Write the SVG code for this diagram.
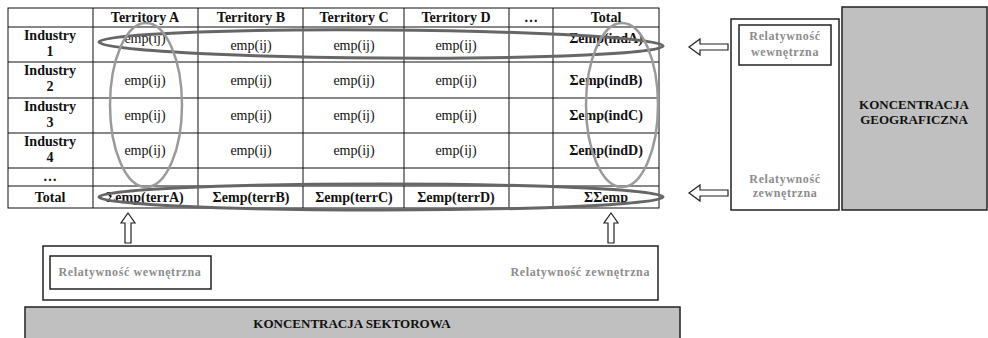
<svg xmlns="http://www.w3.org/2000/svg" width="988" height="338" viewBox="0 0 988 338" font-family="'Liberation Serif', 'DejaVu Serif', serif">
<style>
text{font-family:'Liberation Serif','DejaVu Serif',serif;fill:#111}
.b{font-weight:bold;font-size:14px;text-anchor:middle}
.r{font-size:14px;text-anchor:middle}
.g{font-weight:bold;font-size:12px;fill:#8c8c8c;letter-spacing:0.6px}
.k{font-weight:bold;font-size:13px;text-anchor:middle}
.grid{stroke:#111;stroke-width:1;fill:none}
.box{fill:#fff;stroke:#222;stroke-width:1.5}
.gray{fill:#c0c0c0;stroke:#222;stroke-width:1.5}
.arr{fill:#fff;stroke:#222;stroke-width:1.2}
.eh{fill:none;stroke:#666;stroke-width:3}
.ev{fill:none;stroke:#9a9a9a;stroke-width:2.5}
</style>
<defs>
<linearGradient id="gh" x1="0" x2="1" y1="0" y2="0">
<stop offset="0" stop-color="#777"/><stop offset="0.5" stop-color="#555"/><stop offset="1" stop-color="#888"/>
</linearGradient>
</defs>

<g id="table">
<rect x="8" y="8" width="651" height="200" class="grid"/>
<line x1="8" y1="27" x2="659" y2="27" class="grid"/>
<line x1="8" y1="62" x2="659" y2="62" class="grid"/>
<line x1="8" y1="98" x2="659" y2="98" class="grid"/>
<line x1="8" y1="133" x2="659" y2="133" class="grid"/>
<line x1="8" y1="168" x2="659" y2="168" class="grid"/>
<line x1="8" y1="186" x2="659" y2="186" class="grid"/>
<line x1="93" y1="8" x2="93" y2="208" class="grid"/>
<line x1="198" y1="8" x2="198" y2="208" class="grid"/>
<line x1="303" y1="8" x2="303" y2="208" class="grid"/>
<line x1="404" y1="8" x2="404" y2="208" class="grid"/>
<line x1="509" y1="8" x2="509" y2="208" class="grid"/>
<line x1="553" y1="8" x2="553" y2="208" class="grid"/>

<text x="145" y="22" class="b">Territory A</text>
<text x="251" y="22" class="b">Territory B</text>
<text x="354" y="22" class="b">Territory C</text>
<text x="456" y="22" class="b">Territory D</text>
<text x="531" y="22" class="b">…</text>
<text x="606" y="22" class="b">Total</text>

<text x="50" y="40" class="b">Industry</text><text x="50" y="56" class="b">1</text>
<text x="50" y="75" class="b">Industry</text><text x="50" y="91" class="b">2</text>
<text x="50" y="111" class="b">Industry</text><text x="50" y="127" class="b">3</text>
<text x="50" y="146" class="b">Industry</text><text x="50" y="162" class="b">4</text>
<text x="50" y="181" class="b">…</text>
<text x="50" y="202" class="b">Total</text>

<text x="145" y="43" class="r">emp(ij)</text>
<text x="251" y="50" class="r">emp(ij)</text>
<text x="354" y="50" class="r">emp(ij)</text>
<text x="456" y="50" class="r">emp(ij)</text>
<text x="606" y="43" class="b">Σemp(indA)</text>

<text x="145" y="85" class="r">emp(ij)</text>
<text x="251" y="85" class="r">emp(ij)</text>
<text x="354" y="85" class="r">emp(ij)</text>
<text x="456" y="85" class="r">emp(ij)</text>
<text x="606" y="85" class="b">Σemp(indB)</text>

<text x="145" y="120" class="r">emp(ij)</text>
<text x="251" y="120" class="r">emp(ij)</text>
<text x="354" y="120" class="r">emp(ij)</text>
<text x="456" y="120" class="r">emp(ij)</text>
<text x="606" y="120" class="b">Σemp(indC)</text>

<text x="145" y="155" class="r">emp(ij)</text>
<text x="251" y="155" class="r">emp(ij)</text>
<text x="354" y="155" class="r">emp(ij)</text>
<text x="456" y="155" class="r">emp(ij)</text>
<text x="606" y="155" class="b">Σemp(indD)</text>

<text x="145" y="202" class="b">Σemp(terrA)</text>
<text x="251" y="202" class="b">Σemp(terrB)</text>
<text x="354" y="202" class="b">Σemp(terrC)</text>
<text x="456" y="202" class="b">Σemp(terrD)</text>
<text x="606" y="202" class="b">ΣΣemp</text>
</g>

<g id="ellipses">
<ellipse cx="381" cy="44" rx="282" ry="14" class="eh" stroke="url(#gh)" transform="rotate(0.4 381 44)"/>
<ellipse cx="381" cy="197" rx="282" ry="13" class="eh" stroke="url(#gh)"/>
<ellipse cx="146" cy="105" rx="36" ry="82" class="ev"/>
<ellipse cx="622" cy="105" rx="36" ry="82" class="ev"/>
</g>

<g id="geo-relative">
<rect x="731" y="19" width="108" height="191" class="box"/>
<rect x="739" y="25" width="92" height="40" class="box"/>
<text x="785" y="40" class="g" text-anchor="middle">Relatywność</text>
<text x="785" y="56" class="g" text-anchor="middle">wewnętrzna</text>
<text x="785" y="183" class="g" text-anchor="middle">Relatywność</text>
<text x="785" y="197" class="g" text-anchor="middle">zewnętrzna</text>
</g>

<g id="geo">
<rect x="842" y="7" width="145" height="203" class="gray"/>
<text x="914" y="109" class="k">KONCENTRACJA</text>
<text x="914" y="124" class="k">GEOGRAFICZNA</text>
</g>

<g id="sect-relative">
<rect x="43" y="246" width="615" height="54" class="box"/>
<rect x="50" y="256" width="161" height="33" class="box"/>
<text x="130" y="276" class="g" text-anchor="middle">Relatywność wewnętrzna</text>
<text x="650" y="276" class="g" text-anchor="end">Relatywność zewnętrzna</text>
</g>

<g id="sect">
<rect x="25" y="307" width="655" height="33" class="gray"/>
<text x="352" y="328" class="k">KONCENTRACJA SEKTOROWA</text>
</g>

<g id="connectors">
<path d="M689 47 L700 39 L700 44 L728 44 L728 50 L700 50 L700 55 Z" class="arr"/>
<path d="M689 193 L700 185 L700 190 L728 190 L728 196 L700 196 L700 201 Z" class="arr"/>
<path d="M128 213 L135 223 L131 223 L131 243 L125 243 L125 223 L121 223 Z" class="arr"/>
<path d="M611 213 L618 223 L614 223 L614 243 L608 243 L608 223 L604 223 Z" class="arr"/>
</g>
</svg>
